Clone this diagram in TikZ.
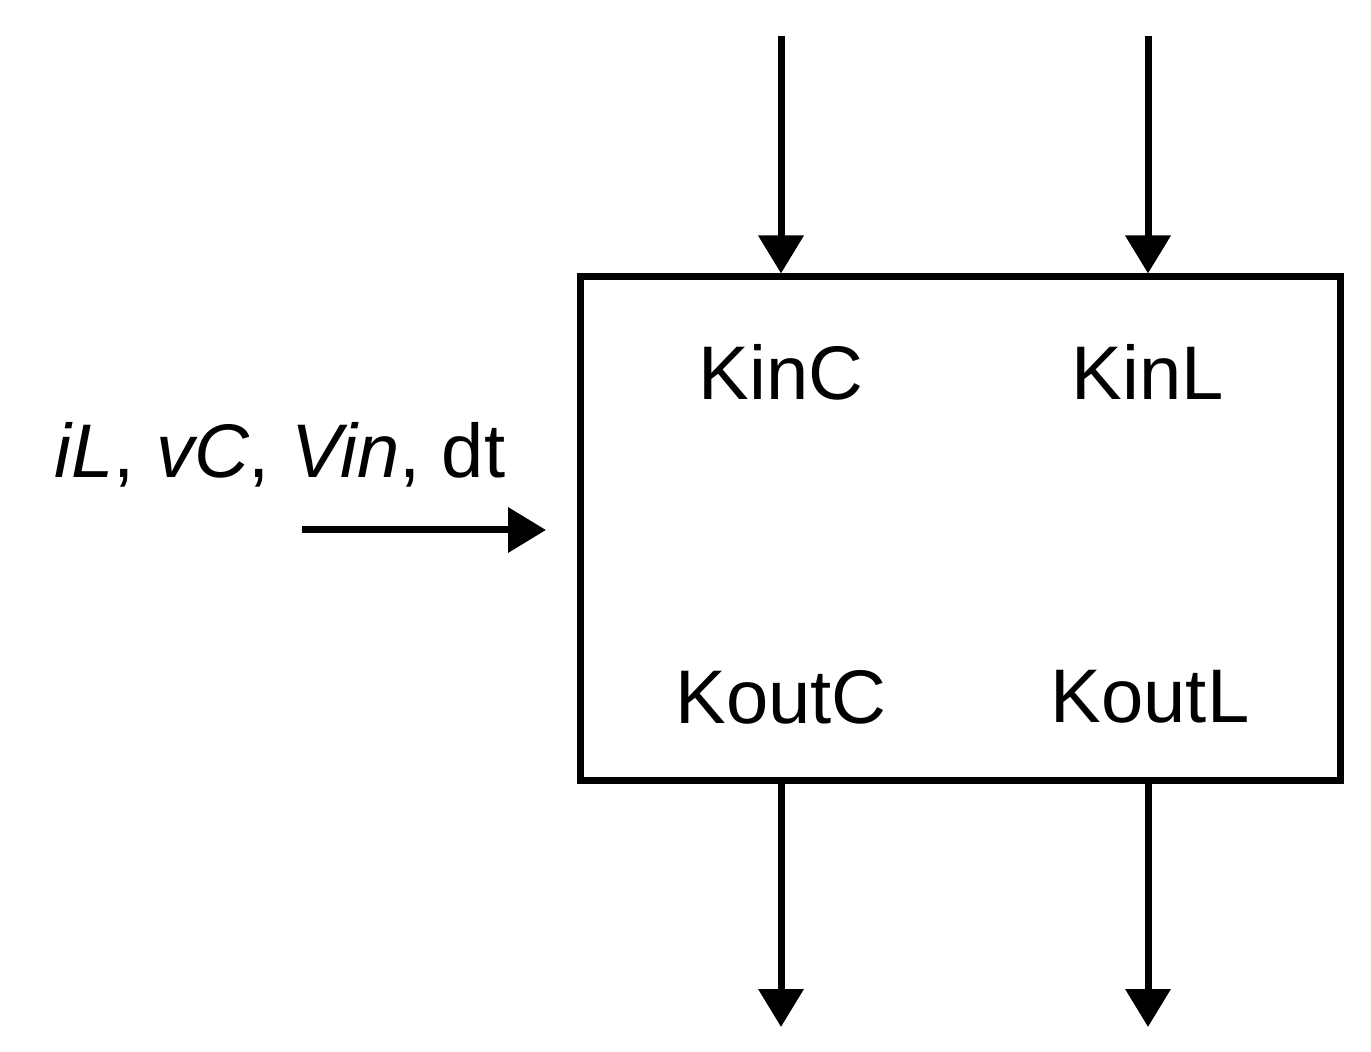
\documentclass[tikz,border=0pt]{standalone}
\usepackage{fontspec}
\setmainfont{Liberation Sans}
\usetikzlibrary{arrows.meta}
\begin{document}
\begin{tikzpicture}[x=0.5pt,y=-0.5pt,
  ln/.style={line width=3.5pt},
  arr/.style={ln,-{Triangle[length=19pt,width=22pt]}},
  lbl/.style={font=\fontsize{38}{46}\selectfont,inner sep=0pt}]
\useasboundingbox (0,0) rectangle (1371,1052);
\node[draw,ln,minimum width=380pt,minimum height=252pt,inner sep=0pt] (box) at (960,529) {};
\coordinate (t1) at (781,36); \coordinate (t2) at (1148,36);
\coordinate (b1) at (781,1027); \coordinate (b2) at (1148,1027);
\coordinate (l0) at (302,530); \coordinate (l1) at (546,530);
\draw[arr] (t1) -- (t1 |- box.north);
\draw[arr] (t2) -- (t2 |- box.north);
\draw[arr] (b1 |- box.south) -- (b1);
\draw[arr] (b2 |- box.south) -- (b2);
\draw[arr] (l0) -- (l1);
\node[lbl] (kinc) at (781,372) {KinC};
\node[lbl] (kinl) at (1148,372) {KinL};
\node[lbl] (koutc) at (781,697) {KoutC};
\node[lbl] (koutl) at (1150,697) {KoutL};
\node[lbl] (in) at (280,455) {\textit{iL}, \textit{vC}, \textit{Vin}, dt};
\end{tikzpicture}
\end{document}
